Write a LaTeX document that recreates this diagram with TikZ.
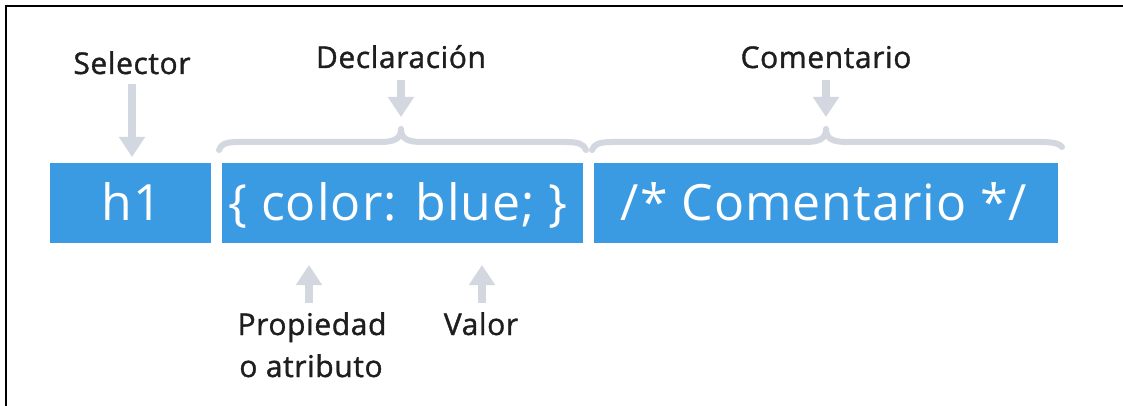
\documentclass[tikz,border=0pt]{standalone}
\usepackage{fontspec}
\setmainfont{Open Sans}
\newfontfamily\lblfont[FakeBold=1.2,LetterSpace=2]{Open Sans}
\newfontfamily\codefont[LetterSpace=2]{Open Sans}
\usetikzlibrary{arrows.meta}
\definecolor{boxblue}{RGB}{58,155,227}
\definecolor{arrgrey}{RGB}{210,215,224}
\definecolor{labelink}{RGB}{30,30,30}
\begin{document}
\begin{tikzpicture}[x=1pt,y=-1pt,
  codebox/.style={fill=boxblue,draw=none,inner sep=0pt},
  codetext/.style={anchor=base,text=white,font=\codefont\fontsize{50}{52}\selectfont,inner sep=0pt},
  lbl/.style={anchor=base,text=labelink,font=\lblfont\fontsize{30}{32}\selectfont,inner sep=0pt},
  arr/.style={draw=arrgrey,line width=8pt,-{Triangle[width=25pt,length=20pt]}},
  brc/.style={draw=arrgrey,line width=6pt,line cap=round,line join=round}]
\useasboundingbox (0,0) rectangle (1123,406);
\fill[white] (0,0) rectangle (1123,406);
\draw[line width=2pt,black] (6,406) -- (6,6) -- (1123,6);
% boxes
\path[codebox] (50,163) rectangle (211,243);
\path[codebox] (222,163) rectangle (583,243);
\path[codebox] (594,163) rectangle (1058,243);
\node[coordinate] (h1) at (130.5,163) {};
\node[codetext] (t1) at (132,220) {h1};
\node[codetext] (t2) at (398,220) {\{ color: blue; \}};
\node[codetext] (t3) at (824,220) {/* Comentario */};
% labels
\node[lbl] (sel) at (132,74) {Selector};
\node[lbl] (dec) at (401,68) {Declaración};
\node[lbl] (com) at (826,68) {Comentario};
\node[lbl] (prop) at (312,335) {Propiedad};
\node[lbl] (prop2) at (311,377) {o atributo};
\node[lbl] (val) at (481,335) {Valor};
% arrow end coordinates
\coordinate (selS) at (132,84);
\coordinate (selE) at (132,157);
\coordinate (decS) at (401,80);
\coordinate (decE) at (401,117);
\coordinate (comS) at (826,80);
\coordinate (comE) at (826,117);
\coordinate (propS) at (309,303);
\coordinate (propE) at (309,265);
\coordinate (valS) at (482,303);
\coordinate (valE) at (482,265);
\draw[arr] (selS) -- (selE);
\draw[arr] (decS) -- (decE);
\draw[arr] (comS) -- (comE);
\draw[arr] (propS) -- (propE);
\draw[arr] (valS) -- (valE);
% braces
\draw[brc] (219,150) .. controls (221,144) and (226,142) .. (238,142) -- (380,142)
  .. controls (394,142) and (401,139) .. (401,129)
  .. controls (401,139) and (408,142) .. (422,142) -- (566,142)
  .. controls (578,142) and (584,144) .. (586,150);
\draw[brc] (592,150) .. controls (594,144) and (600,142) .. (612,142) -- (805,142)
  .. controls (819,142) and (826,139) .. (826,129)
  .. controls (826,139) and (833,142) .. (847,142) -- (1042,142)
  .. controls (1054,142) and (1060,144) .. (1062,147);
\end{tikzpicture}
\end{document}
